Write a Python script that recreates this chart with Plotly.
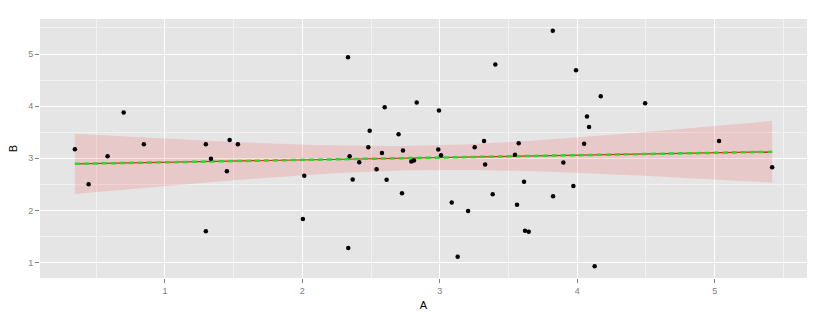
import numpy as np
import plotly.graph_objects as go

A = [0.345, 0.445, 0.583, 0.70, 0.847, 1.298, 1.298, 1.335, 1.451, 1.471, 1.531,
     2.332, 2.014, 2.004, 2.334, 2.344, 2.366, 2.414, 2.48, 2.49, 2.54, 2.579,
     2.599, 2.613, 2.70, 2.725, 2.732, 2.793, 2.812, 2.832, 2.989, 2.994, 3.009,
     3.087, 3.13, 3.206, 3.254, 3.322, 3.33, 3.385, 3.404, 3.547, 3.562, 3.574,
     3.613, 3.62, 3.647,
     3.822, 3.824, 3.899, 3.972, 3.991, 4.05, 4.071, 4.086, 4.127, 4.171, 4.494,
     5.032, 5.418]
B = [3.174, 2.504, 3.04, 3.88, 3.27, 3.27, 1.60, 2.99, 2.75, 3.35, 3.27,
     4.94, 2.665, 1.835, 1.28, 3.04, 2.594, 2.925, 3.21, 3.53, 2.79, 3.10,
     3.98, 2.59, 3.46, 2.33, 3.15, 2.94, 2.96, 4.07, 3.17, 3.915, 3.06,
     2.154, 1.11, 1.99, 3.21, 3.33, 2.88, 2.31, 4.80, 3.07, 2.11, 3.29,
     2.55, 1.61, 1.59,
     5.446, 2.27, 2.92, 2.47, 4.69, 3.28, 3.80, 3.60, 0.93, 4.19, 4.055,
     3.33, 2.83]

x_ticks = [1, 2, 3, 4, 5]
y_ticks = [1, 2, 3, 4, 5]

xa = np.array(A)
ya = np.array(B)
n = len(xa)
slope, intercept = np.polyfit(xa, ya, 1)
resid = ya - (intercept + slope * xa)
s = np.sqrt(np.sum(resid ** 2) / (n - 2))
xm = xa.mean()
sxx = np.sum((xa - xm) ** 2)
tq = 2.0017  # t(0.975, df=58)
xs = np.linspace(xa.min(), xa.max(), 80)
fit = intercept + slope * xs
se = s * np.sqrt(1.0 / n + (xs - xm) ** 2 / sxx)
upper = fit + tq * se
lower = fit - tq * se

fig = go.Figure()
fig.add_trace(go.Scatter(x=xs, y=upper, mode="lines", line=dict(width=0),
                         hoverinfo="skip", showlegend=False))
fig.add_trace(go.Scatter(x=xs, y=lower, mode="lines", line=dict(width=0),
                         fill="tonexty", fillcolor="rgba(255,0,0,0.12)",
                         hoverinfo="skip", showlegend=False))
fig.add_trace(go.Scatter(x=xs, y=fit, mode="lines",
                         line=dict(color="#E8251F", width=1.2), showlegend=False))
fig.add_trace(go.Scatter(x=xs, y=fit, mode="lines",
                         line=dict(color="#22DD22", width=2.5, dash="5px,4px"),
                         showlegend=False))
fig.add_trace(go.Scatter(x=A, y=B, mode="markers",
                         marker=dict(color="black", size=4.5), showlegend=False))

xr = xa.max() - xa.min()
yr = ya.max() - ya.min()
x_range = [xa.min() - 0.05 * xr, xa.max() + 0.05 * xr]
y_range = [ya.min() - 0.05 * yr, ya.max() + 0.05 * yr]

axis_common = dict(
    showgrid=True, gridcolor="white", gridwidth=1.1,
    zeroline=False, showline=False,
    ticks="outside", ticklen=4, tickcolor="#7F7F7F", tickwidth=1,
    tickfont=dict(family="Liberation Sans, Arial, sans-serif", size=9, color="#808080"),
    title_font=dict(family="Liberation Sans, Arial, sans-serif", size=11, color="black"),
    minor=dict(showgrid=True, gridcolor="#F2F2F2", gridwidth=0.6, dtick=0.5, ticks=""),
)

fig.update_layout(
    width=826, height=321,
    margin=dict(l=40, r=19, t=19, b=43),
    paper_bgcolor="white", plot_bgcolor="#E5E5E5",
    xaxis=dict(range=x_range, tickvals=x_ticks, title=dict(text="A", standoff=6),
               minor_tick0=0.5, **axis_common),
    yaxis=dict(range=y_range, tickvals=y_ticks, title=dict(text="B", standoff=8),
               minor_tick0=0.5, **axis_common),
)

fig.write_html("out.html")
